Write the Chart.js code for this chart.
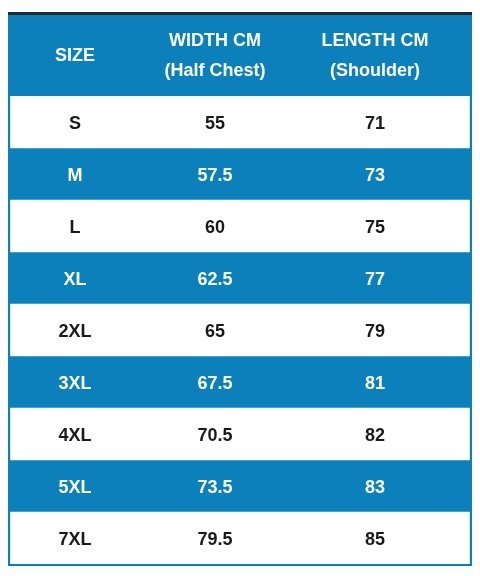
<!DOCTYPE html>
<html>
<head>
<meta charset="utf-8">
<script src="https://cdn.jsdelivr.net/npm/chart.js@4"></script>
<style>
  html, body { margin: 0; padding: 0; background: #fff; }
  #wrap { width: 480px; height: 576px; }
</style>
</head>
<body>
<div id="wrap"><canvas id="sizeChart"></canvas></div>
<script>
const headerLines = [['SIZE'], ['WIDTH CM', '(Half Chest)'], ['LENGTH CM', '(Shoulder)']];
const sizes = ['S', 'M', 'L', 'XL', '2XL', '3XL', '4XL', '5XL', '7XL'];
const widthCm = ['55', '57.5', '60', '62.5', '65', '67.5', '70.5', '73.5', '79.5'];
const lengthCm = ['71', '73', '75', '77', '79', '81', '82', '83', '85'];
const colCenters = [67, 207, 367];

const BLUE = '#0b80bb';
const HEADER_TOP = 13;

// background, header + text drawing
const tablePlugin = {
    id: 'tablePlugin',
    beforeDatasetsDraw(chart) {
        const ctx = chart.ctx, a = chart.chartArea;
        ctx.save();
        ctx.fillStyle = BLUE;
        ctx.fillRect(a.left, HEADER_TOP, a.right - a.left, a.bottom - HEADER_TOP + 2);
        ctx.restore();
    },
    afterDatasetsDraw(chart) {
        const ctx = chart.ctx, a = chart.chartArea;
        const x = chart.scales.x, y = chart.scales.y;
        ctx.save();
        ctx.fillStyle = '#1e2a33';
        ctx.fillRect(a.left, HEADER_TOP - 1, a.right - a.left, 3);
        ctx.textAlign = 'center';
        ctx.textBaseline = 'middle';
        ctx.font = 'bold 18px "Liberation Sans", Arial, sans-serif';
        const hy = (HEADER_TOP + a.top) / 2 + 2;
        headerLines.forEach((lines, c) => {
            ctx.fillStyle = '#fff';
            const cx = x.getPixelForValue(colCenters[c]);
            lines.forEach((t, i) => {
                ctx.fillText(t, cx, hy + (i - (lines.length - 1) / 2) * 30);
            });
        });
        sizes.forEach((s, i) => {
            const ry = y.getPixelForValue(i) + 2;
            ctx.fillStyle = i % 2 === 0 ? '#1a1a1a' : '#fff';
            [s, widthCm[i], lengthCm[i]].forEach((t, c) => {
                ctx.fillText(t, x.getPixelForValue(colCenters[c]), ry);
            });
        });
        ctx.restore();
    }
};

new Chart(document.getElementById('sizeChart'), {
    type: 'bar',
    data: {
        labels: sizes,
        datasets: [{
            data: sizes.map((s, i) => i % 2 === 0 ? [2.5, 461.5] : null),
            backgroundColor: '#fff',
            borderWidth: 0,
            barPercentage: 1,
            categoryPercentage: 1
        }]
    },
    options: {
        indexAxis: 'y',
        responsive: true,
        maintainAspectRatio: false,
        animation: false,
        layout: { padding: { left: 8, right: 8, top: 96, bottom: 12 } },
        plugins: { legend: { display: false }, tooltip: { enabled: false } },
        scales: {
            x: { type: 'linear', min: 0, max: 464, display: false },
            y: { display: false, offset: true }
        }
    },
    plugins: [tablePlugin]
});
</script>
</body>
</html>
